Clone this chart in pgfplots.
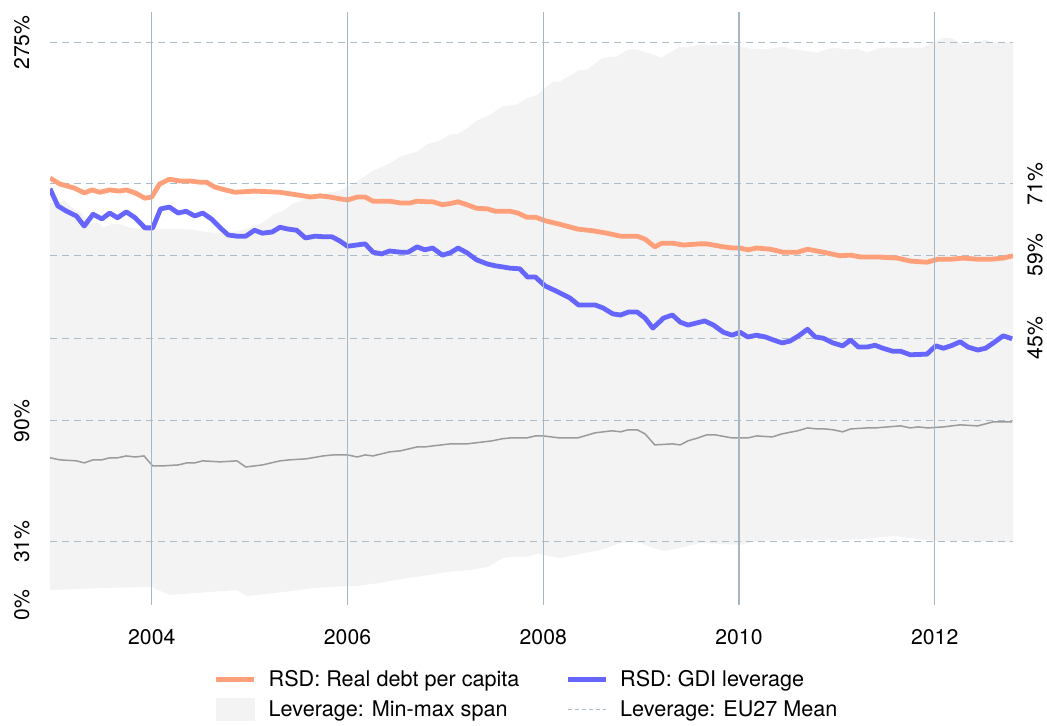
\documentclass[border=0pt]{standalone}
\usepackage{fontspec}
\setmainfont{TeX Gyre Heros}
\usepackage{pgfplots}
\pgfplotsset{compat=1.18}
\usepgfplotslibrary{fillbetween}

\definecolor{debtorange}{RGB}{255,160,122}
\definecolor{gdiblue}{RGB}{102,102,255}
\definecolor{spangrey}{RGB}{243,243,243}
\definecolor{meangrey}{RGB}{155,155,155}
\definecolor{hgrid}{RGB}{172,188,200}
\definecolor{vgrid}{RGB}{165,182,196}

\begin{document}
\begin{tikzpicture}
\pgfplotsset{
  base/.style={
    scale only axis, width=481.5pt, height=296.5pt,
    xmin=2002.96, xmax=2012.80, ymin=0,
    axis line style={draw=none}, major tick length=0pt,
    tick label style={font=\fontsize{10.6}{12.7}\selectfont},
    y grid style={color=hgrid, line width=0.5pt, dash pattern=on 3.5pt off 2.5pt},
  },
}

% left axis: leverage span and EU27 mean
\begin{axis}[base, ymax=290, axis on top,
    xtick={2004,2006,2008,2010,2012}, xticklabels={2004,2006,2008,2010,2012},
    xmajorgrids, x grid style={color=vgrid, line width=0.55pt},
    xticklabel style={inner sep=0pt}, xticklabel shift=12pt,
    ytick={31,90,275}, yticklabels={31\%,90\%,275\%}, ymajorgrids,
    extra y ticks={0}, extra y tick labels={0\%}, extra y tick style={grid=none},
    yticklabel style={rotate=90, anchor=south, inner sep=0pt}, yticklabel shift=10pt,
]
\addplot[name path=upper, draw=none] coordinates {
(2002.96,196.3) (2003.11,197.7) (2003.19,194.3) (2003.29,191.4) (2003.37,186.5) (2003.45,187.0)
(2003.50,184.6) (2003.60,186.5) (2003.69,186.0) (2003.78,184.5) (2003.88,184.0) (2004.08,184.0)
(2004.21,184.0) (2004.42,183.6) (2004.52,182.6) (2004.62,182.1) (2004.77,181.6) (2004.90,183.1)
(2005.03,185.0) (2005.13,187.0) (2005.24,190.9) (2005.34,192.8) (2005.44,196.3) (2005.58,198.7)
(2005.75,201.2) (2005.92,202.6) (2006.06,206.1) (2006.16,209.0) (2006.26,212.4) (2006.43,215.9)
(2006.54,219.3) (2006.71,221.7) (2006.81,225.2) (2006.94,227.1) (2007.05,230.1) (2007.13,230.5)
(2007.22,233.0) (2007.32,236.9) (2007.46,239.8) (2007.58,243.8) (2007.73,244.7) (2007.83,247.7)
(2007.94,249.6) (2008.10,256.0) (2008.17,256.0) (2008.36,261.4) (2008.45,261.9) (2008.61,267.7)
(2008.75,268.2) (2008.87,271.7) (2008.96,271.7) (2009.21,267.7) (2009.40,273.1) (2009.48,272.6)
(2009.60,274.1) (2009.94,274.1) (2010.11,272.1) (2010.27,271.7) (2010.44,273.1) (2010.52,272.1)
(2010.80,270.2) (2010.96,272.6) (2011.11,271.7) (2011.21,272.1) (2011.31,270.2) (2011.44,272.6)
(2011.88,272.6) (2012.09,277.5) (2012.19,277.0) (2012.28,274.1) (2012.44,275.1) (2012.52,276.5)
(2012.59,275.1) (2012.80,275.1)
};
\addplot[name path=lower, draw=none] coordinates {
(2002.96,7.3) (2003.47,8.3) (2004.00,8.8) (2004.18,4.9) (2004.87,7.3) (2004.97,4.4)
(2005.18,5.4) (2005.44,6.9) (2005.65,8.3) (2006.00,9.3) (2006.10,9.3) (2006.33,10.8)
(2006.61,13.2) (2006.84,14.7) (2007.02,16.2) (2007.25,17.1) (2007.43,18.6) (2007.59,23.0)
(2007.69,23.5) (2007.83,23.5) (2007.94,25.0) (2008.17,23.0) (2008.38,25.0) (2008.58,26.9)
(2008.65,27.9) (2008.75,29.9) (2008.89,30.8) (2008.99,30.3) (2009.12,27.9) (2009.23,26.4)
(2009.40,27.9) (2009.60,30.3) (2010.01,29.4) (2010.18,31.3) (2010.45,31.8) (2011.03,31.8)
(2011.27,32.3) (2011.58,33.8) (2011.75,32.8) (2011.92,31.8) (2012.09,31.3) (2012.80,30.8)
};
\addplot[fill=spangrey, draw=none] fill between[of=upper and lower];
\addplot[meangrey, line width=0.75pt] coordinates {
(2002.96,72.0) (2003.06,71.0) (2003.23,70.5) (2003.31,69.5) (2003.40,71.0) (2003.49,71.0)
(2003.57,72.0) (2003.65,72.0) (2003.74,72.9) (2003.83,72.4) (2003.92,72.9) (2004.01,68.0)
(2004.10,68.0) (2004.27,68.5) (2004.36,69.5) (2004.44,69.5) (2004.52,70.5) (2004.70,70.0)
(2004.87,70.5) (2004.96,67.5) (2005.13,68.5) (2005.31,70.5) (2005.41,71.0) (2005.58,71.5)
(2005.75,72.9) (2005.85,73.4) (2006.00,73.4) (2006.10,72.4) (2006.18,73.4) (2006.26,72.9)
(2006.43,74.9) (2006.54,75.4) (2006.71,77.3) (2006.79,77.3) (2006.87,77.8) (2007.05,78.8)
(2007.22,78.8) (2007.48,80.3) (2007.58,81.3) (2007.66,81.7) (2007.83,81.7) (2007.92,82.7)
(2008.00,82.7) (2008.17,81.7) (2008.35,81.7) (2008.53,84.2) (2008.70,85.2) (2008.79,84.7)
(2008.87,85.7) (2008.96,85.7) (2009.04,83.7) (2009.14,78.3) (2009.32,78.8) (2009.40,78.3)
(2009.48,80.3) (2009.58,81.7) (2009.67,83.2) (2009.76,83.2) (2009.93,81.7) (2010.09,81.7)
(2010.18,82.7) (2010.34,82.2) (2010.44,83.7) (2010.60,85.2) (2010.70,86.6) (2010.80,86.1)
(2010.88,86.1) (2010.96,85.7) (2011.06,84.7) (2011.14,86.1) (2011.31,86.6) (2011.39,86.6)
(2011.65,87.6) (2011.75,86.6) (2011.83,87.1) (2011.93,86.6) (2012.09,87.1) (2012.26,88.1)
(2012.44,87.6) (2012.60,89.6) (2012.79,89.6)
};
\end{axis}

% right axis: RSD series
\begin{axis}[base, ymax=100, xtick=\empty,
    ytick={45,59,71}, yticklabels={45\%,59\%,71\%}, ymajorgrids,
    yticklabel pos=right,
    yticklabel style={rotate=90, anchor=north, inner sep=0pt}, yticklabel shift=7pt,
    legend columns=2, legend cell align=left,
    legend image code/.code={\draw[#1] (0pt,0pt) -- (19pt,0pt);},
    legend style={at={(0.495,-0.106)}, anchor=north, draw=none, fill=none,
      inner sep=0pt, font=\fontsize{10.8}{13}\selectfont, row sep=3.5pt,
      nodes={inner sep=1pt},
      /tikz/every odd column/.append style={column sep=5pt},
      /tikz/every even column/.append style={column sep=22pt}},
]
\coordinate (bbSW) at (rel axis cs:0,0);
\coordinate (bbNE) at (rel axis cs:1,1);
\addplot[debtorange, line width=2.4pt, line join=round] coordinates {
(2002.96,72.0) (2003.06,71.0) (2003.21,70.3) (2003.31,69.5) (2003.39,70.0) (2003.47,69.6)
(2003.57,70.0) (2003.67,69.8) (2003.74,70.0) (2003.83,69.5) (2003.93,68.6) (2004.00,68.8)
(2004.08,71.0) (2004.18,71.8) (2004.29,71.5) (2004.39,71.5) (2004.49,71.3) (2004.56,71.3)
(2004.64,70.5) (2004.75,70.0) (2004.85,69.6) (2005.05,69.8) (2005.31,69.6) (2005.51,69.1)
(2005.62,68.8) (2005.72,69.0) (2005.82,68.8) (2005.92,68.5) (2006.00,68.3) (2006.10,68.8)
(2006.18,68.8) (2006.26,68.1) (2006.43,68.1) (2006.54,67.8) (2006.64,67.8) (2006.71,68.1)
(2006.81,68.0) (2006.87,68.0) (2006.97,67.5) (2007.05,67.7) (2007.13,68.0) (2007.22,67.5)
(2007.32,66.9) (2007.43,66.8) (2007.51,66.4) (2007.66,66.4) (2007.74,66.1) (2007.83,65.4)
(2007.92,65.4) (2008.02,64.8) (2008.17,64.2) (2008.35,63.4) (2008.51,63.1) (2008.65,62.7)
(2008.79,62.2) (2008.96,62.2) (2009.04,61.7) (2009.14,60.4) (2009.21,61.0) (2009.33,61.0)
(2009.43,60.7) (2009.60,60.9) (2009.67,60.9) (2009.74,60.7) (2009.84,60.4) (2009.94,60.2)
(2010.01,60.2) (2010.09,59.9) (2010.18,60.2) (2010.32,60.0) (2010.45,59.5) (2010.60,59.5)
(2010.70,60.0) (2010.86,59.5) (2011.03,58.9) (2011.14,59.0) (2011.24,58.7) (2011.41,58.7)
(2011.62,58.5) (2011.75,58.0) (2011.92,57.8) (2012.03,58.3) (2012.16,58.3) (2012.29,58.5)
(2012.44,58.3) (2012.57,58.3) (2012.70,58.5) (2012.80,58.9)
};
\addlegendentry{RSD: Real debt per capita}
\addplot[gdiblue, line width=2.4pt, line join=round] coordinates {
(2002.96,70.2) (2003.04,67.3) (2003.13,66.4) (2003.23,65.6) (2003.31,63.9) (2003.40,65.9)
(2003.49,65.1) (2003.57,66.1) (2003.65,65.3) (2003.74,66.3) (2003.83,65.3) (2003.93,63.6)
(2004.01,63.6) (2004.09,66.8) (2004.18,67.1) (2004.27,66.1) (2004.35,66.4) (2004.44,65.6)
(2004.52,66.1) (2004.61,65.1) (2004.70,63.6) (2004.78,62.4) (2004.87,62.2) (2004.96,62.2)
(2005.05,63.2) (2005.13,62.7) (2005.23,62.9) (2005.31,63.7) (2005.39,63.4) (2005.48,63.2)
(2005.57,61.9) (2005.67,62.2) (2005.75,62.1) (2005.84,62.1) (2005.92,61.4) (2006.00,60.5)
(2006.18,60.9) (2006.26,59.5) (2006.35,59.2) (2006.43,59.7) (2006.54,59.5) (2006.62,59.5)
(2006.71,60.4) (2006.79,59.9) (2006.87,60.2) (2006.97,59.0) (2007.05,59.4) (2007.13,60.2)
(2007.22,59.4) (2007.32,58.2) (2007.43,57.5) (2007.51,57.2) (2007.59,57.0) (2007.66,56.8)
(2007.76,56.7) (2007.84,55.3) (2007.92,55.3) (2008.02,53.8) (2008.15,52.8) (2008.27,51.8)
(2008.36,50.6) (2008.53,50.6) (2008.61,50.1) (2008.71,49.1) (2008.79,48.9) (2008.87,49.4)
(2008.96,49.4) (2009.04,48.4) (2009.12,46.7) (2009.23,48.4) (2009.32,48.9) (2009.40,47.7)
(2009.48,47.2) (2009.60,47.7) (2009.65,47.9) (2009.74,47.2) (2009.84,46.0) (2009.93,45.5)
(2010.01,46.0) (2010.09,45.2) (2010.18,45.5) (2010.27,45.2) (2010.35,44.7) (2010.44,44.2)
(2010.52,44.5) (2010.61,45.4) (2010.70,46.5) (2010.78,45.2) (2010.86,45.0) (2010.96,44.2)
(2011.06,43.7) (2011.14,44.7) (2011.22,43.5) (2011.31,43.5) (2011.39,43.8) (2011.47,43.3)
(2011.57,42.8) (2011.65,42.8) (2011.75,42.2) (2011.92,42.3) (2012.01,43.7) (2012.09,43.3)
(2012.18,43.8) (2012.26,44.4) (2012.34,43.5) (2012.44,43.0) (2012.52,43.3) (2012.60,44.2)
(2012.70,45.4) (2012.79,44.9)
};
\addlegendentry{RSD: GDI leverage}
\addlegendimage{legend image code/.code={\fill[spangrey] (0pt,-5.5pt) rectangle (19pt,5.5pt);}}
\addlegendentry{Leverage: Min-max span}
\addlegendimage{hgrid, line width=0.5pt, dash pattern=on 2pt off 1.5pt}
\addlegendentry{Leverage: EU27 Mean}
\end{axis}

\pgfresetboundingbox
\path[use as bounding box] ([xshift=-25pt,yshift=-60pt]bbSW) rectangle ([xshift=17pt,yshift=6pt]bbNE);
\end{tikzpicture}
\end{document}
